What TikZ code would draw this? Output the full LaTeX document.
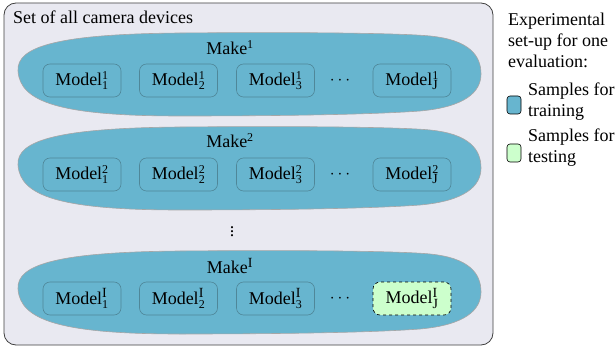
\documentclass[tikz,border=0pt]{standalone}
\usepackage{fontspec}
\setmainfont{Liberation Serif}
\usetikzlibrary{positioning}
\definecolor{bgbox}{HTML}{E9E9F1}
\definecolor{blobblue}{HTML}{67B5CF}
\definecolor{modeledge}{HTML}{4F8799}
\definecolor{testgreen}{HTML}{CCFFCC}
\newcommand\supsb[2]{\ensuremath{^{\mbox{\fontsize{12}{12}\selectfont #1}}_{\mbox{\fontsize{12}{12}\selectfont #2}}}}
\newcommand\Lt[1]{{\fontsize{14}{14}\selectfont #1}}
\tikzset{
  every node/.style={font=\fontsize{18}{21}\selectfont},
  outerbox/.style={fill=bgbox, draw=black!75, line width=0.8pt, rounded corners=12pt},
  blobshape/.style={fill=blobblue, draw=gray!70, line width=0.6pt},
  modelbox/.style={fill=blobblue, draw=modeledge, line width=0.6pt, rounded corners=7pt, minimum width=78pt, minimum height=33pt, inner sep=0pt},
  testbox/.style={modelbox, fill=testgreen, draw=black, dashed},
  legbox/.style={draw=black, line width=0.6pt, rounded corners=3pt, minimum width=14pt, minimum height=18pt, inner sep=0pt},
  legtext/.style={align=left, anchor=west, inner sep=0pt, font=\fontsize{18}{21}\selectfont}
}
\newcommand\blobat[1]{%
  \begin{scope}[shift={(0,#1)}]
    \path[blobshape] (18,-3) .. controls (16,-28) and (60,-40) .. (180,-41)
      .. controls (300,-42) and (400,-41) .. (430,-38)
      .. controls (470,-34) and (481,-18) .. (481,0)
      .. controls (481,18) and (465,33) .. (420,37)
      .. controls (380,40) and (300,42) .. (180,42)
      .. controls (60,42) and (20,28) .. (18,-3) -- cycle;
  \end{scope}}
\begin{document}
\begin{tikzpicture}[x=1pt,y=-1pt]
\useasboundingbox (0,0) rectangle (615,347);
\path[outerbox] (4,3) rectangle (493,345);
\node[anchor=west, inner sep=0pt] (title) at (13,17) {Set of all camera devices};

\blobat{74}
\blobat{168}
\blobat{292}

% row 1
\node (make1) at (230,50) {Make\supsb{1}{}};
\node[modelbox] (m11) at (82,80.5) {Model\supsb{1}{1}};
\node[modelbox] (m12) at (178.5,80.5) {Model\supsb{1}{2}};
\node[modelbox] (m13) at (275.5,80.5) {Model\supsb{1}{3}};
\node (d1) at (340,80.5) {$\cdots$};
\node[modelbox] (m1J) at (412,80.5) {Model\supsb{1}{\Lt{J}}};

% row 2
\node (make2) at (230,143) {Make\supsb{2}{}};
\node[modelbox] (m21) at (82,174.5) {Model\supsb{2}{1}};
\node[modelbox] (m22) at (178.5,174.5) {Model\supsb{2}{2}};
\node[modelbox] (m23) at (275.5,174.5) {Model\supsb{2}{3}};
\node (d2) at (340,174.5) {$\cdots$};
\node[modelbox] (m2J) at (412,174.5) {Model\supsb{2}{\Lt{J}}};

\node (vd) at (232,229) {$\vdots$};

% row 3
\node (make3) at (230,268) {Make\supsb{\Lt{I}}{}};
\node[modelbox] (m31) at (82,298.5) {Model\supsb{\Lt{I}}{1}};
\node[modelbox] (m32) at (178.5,298.5) {Model\supsb{\Lt{I}}{2}};
\node[modelbox] (m33) at (275.5,298.5) {Model\supsb{\Lt{I}}{3}};
\node (d3) at (340,298.5) {$\cdots$};
\node[testbox] (m3J) at (412,298.5) {Model\supsb{\Lt{I}}{\Lt{J}}};

% legend
\node[legtext] (leg) at (508,40) {Experimental\\set-up for one\\evaluation:};
\node[legbox, fill=blobblue] (lb1) at (514,105) {};
\node[legtext] (lt1) at (528,102) {Samples for\\training};
\node[legbox, fill=testgreen] (lb2) at (514,153) {};
\node[legtext] (lt2) at (528,148) {Samples for\\testing};
\end{tikzpicture}
\end{document}
